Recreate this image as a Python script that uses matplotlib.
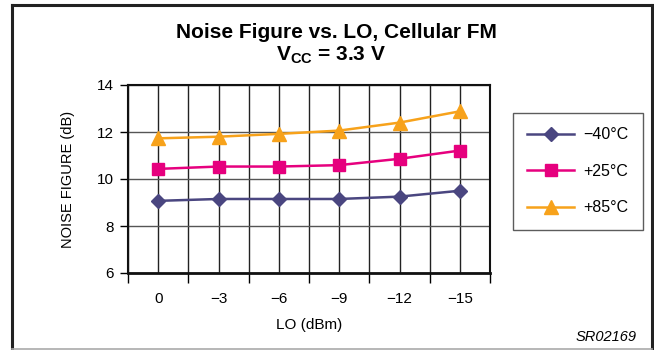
import matplotlib
matplotlib.use('Agg')
import matplotlib.pyplot as plt
from matplotlib.lines import Line2D

plt.rcParams['font.family'] = ['Liberation Sans', 'DejaVu Sans']
plt.rcParams['mathtext.fontset'] = 'custom'
plt.rcParams['mathtext.rm'] = 'Liberation Sans'
plt.rcParams['mathtext.bf'] = 'Liberation Sans:bold'

# data
lo_labels = ['0', '\u22123', '\u22126', '\u22129', '\u221212', '\u221215']
nf_m40 = [9.07, 9.15, 9.15, 9.15, 9.25, 9.5]
nf_p25 = [10.43, 10.53, 10.53, 10.59, 10.86, 11.21]
nf_p85 = [11.73, 11.8, 11.92, 12.06, 12.4, 12.88]
series_names = ['\u221240\u00b0C', '+25\u00b0C', '+85\u00b0C']

W, H = 654, 350
fig = plt.figure(figsize=(W / 100, H / 100), dpi=100)

# outer frame
fig.add_artist(Line2D([12 / W, 12 / W], [1 - 5 / H, 1 - 348 / H], color='#222222', lw=2.2))
fig.add_artist(Line2D([12 / W, 652 / W], [1 - 5 / H, 1 - 5 / H], color='#222222', lw=2.2))
fig.add_artist(Line2D([652 / W, 652 / W], [1 - 5 / H, 1 - 348 / H], color='#222222', lw=2.2))
fig.add_artist(Line2D([12 / W, 652 / W], [1 - 348.5 / H, 1 - 348.5 / H], color='#aaaaaa', lw=1.2))

ax = fig.add_axes([128 / W, 1 - 273 / H, (490 - 128) / W, (273 - 85) / H])
x = list(range(len(lo_labels)))

ax.plot(x, nf_m40, color='#4a4680', lw=1.8, marker='D', ms=7, label=series_names[0], zorder=3)
ax.plot(x, nf_p25, color='#e6007e', lw=1.8, marker='s', ms=9, label=series_names[1], zorder=3)
ax.plot(x, nf_p85, color='#f7a21b', lw=1.8, marker='^', ms=10, label=series_names[2], zorder=3)

ax.set_xlim(-0.5, len(lo_labels) - 0.5)
ax.set_ylim(6, 14)
ax.set_yticks([6, 8, 10, 12, 14])
ax.set_xticks(x)
ax.set_xticklabels(lo_labels)
ax.set_xticks([i - 0.5 for i in range(len(lo_labels) + 1)], minor=True)

# grid at centers and boundaries
for xv in [i * 0.5 - 0.5 for i in range(2 * len(lo_labels) + 1)]:
    ax.axvline(xv, color='#222222', lw=1.0, zorder=1)
ax.grid(axis='y', color='#555555', lw=1.0, zorder=1)

ax.tick_params(axis='x', which='major', length=0, labelsize=11, pad=14)
ax.tick_params(axis='x', which='minor', length=7, width=1.0, direction='out')
ax.tick_params(axis='y', length=6, width=1.0, labelsize=11, pad=4)
for s in ax.spines.values():
    s.set_color('#111111')
    s.set_linewidth(1.5)
ax.spines['bottom'].set_linewidth(2)

ax.set_xlabel('LO (dBm)', fontsize=11, labelpad=8)
ax.set_ylabel('NOISE FIGURE (dB)', fontsize=10.5, labelpad=16)

fig.text(336 / W, 1 - 33 / H, 'Noise Figure vs. LO, Cellular FM', ha='center', va='center',
         fontsize=15, fontweight='bold')
fig.text(331 / W, 1 - 55 / H, r'$\mathbf{V_{CC}}$ = 3.3 V', ha='center', va='center',
         fontsize=15, fontweight='bold')
fig.text(637 / W, 1 - 337 / H, 'SR02169', ha='right', va='center', fontsize=10.5, style='italic')

leg = fig.legend(loc='upper left', bbox_to_anchor=(513 / W, 1 - 113 / H), frameon=True,
                 fontsize=11.5, handlelength=2.9, handletextpad=0.6, labelspacing=1.35,
                 borderpad=0.9, borderaxespad=0, fancybox=False, edgecolor='#333333')
leg.get_frame().set_linewidth(1.0)

fig.savefig('out.png', dpi=100)
